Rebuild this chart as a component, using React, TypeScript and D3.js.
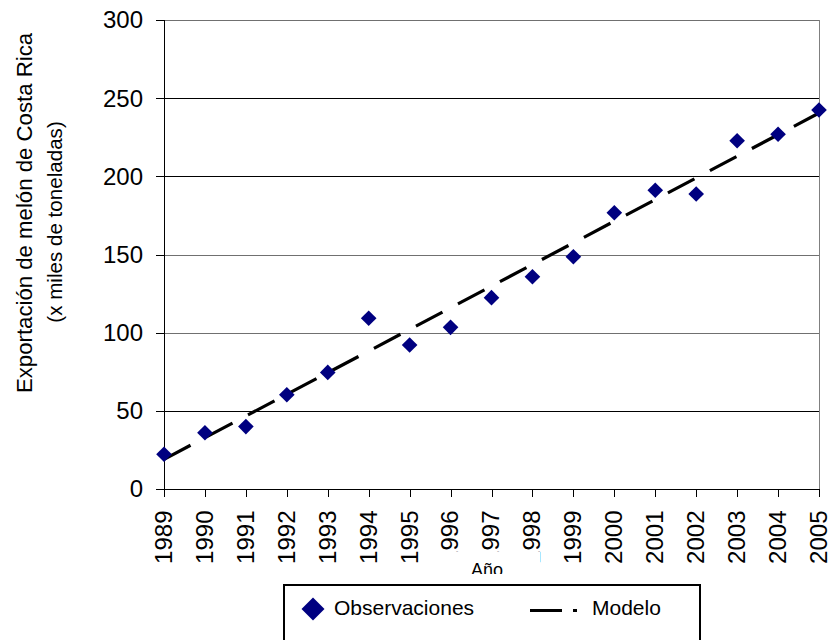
import React from "react";
import * as d3 from "d3";

const years = [1989, 1990, 1991, 1992, 1993, 1994, 1995, 1996, 1997, 1998, 1999, 2000, 2001, 2002, 2003, 2004, 2005];
const observations = [22.2, 36.0, 39.9, 60.3, 74.6, 109.2, 92.1, 103.4, 122.4, 135.8, 148.6, 176.7, 191.1, 188.7, 222.8, 226.9, 242.4];
const modelYears = [1989, 2005];
const modelValues = [19.0, 240.5];
const yTicks = [0, 50, 100, 150, 200, 250, 300];
const yTitle1 = "Exportación de melón de Costa Rica";
const yTitle2 = "(x miles de toneladas)";
const xTitle = "Año";
const legendObs = "Observaciones";
const legendModel = "Modelo";

const W = 829;
const H = 640;
const FONT = "'Liberation Sans', Arial, Helvetica, sans-serif";

export default function App() {
  const left = 164, right = 819, top = 20, bottom = 489;
  const x = d3.scaleLinear().domain([1989, 2005]).range([left, right]);
  const y = d3.scaleLinear().domain([0, 300]).range([bottom, top]);

  const line = d3.line<number>()
    .x((_, i) => x(modelYears[i]))
    .y((d) => y(d));

  const diamond = (cx: number, cy: number, r: number) =>
    `M${cx},${cy - r}L${cx + r},${cy}L${cx},${cy + r}L${cx - r},${cy}Z`;

  return (
    <svg width={W} height={H} style={{ position: "absolute", left: 0, top: 0, background: "#fff" }}>
      <defs>
        <clipPath id="xtclip">
          <rect x={0} y={0} width={W} height={574} />
        </clipPath>
      </defs>
      <rect x={0} y={0} width={W} height={H} fill="#fff" />
      {/* gridlines */}
      {yTicks.filter((t) => t > 0).map((t) => (
        <line key={t} x1={left} x2={right} y1={Math.round(y(t)) + 0.5} y2={Math.round(y(t)) + 0.5}
          stroke={t === 300 || t === 100 || t === 150 ? "#707070" : "#000"} strokeWidth={1} />
      ))}
      {/* right border */}
      <line x1={right + 0.5} x2={right + 0.5} y1={top} y2={bottom} stroke="#808080" strokeWidth={1} />
      {/* y axis */}
      <line x1={left + 0.5} x2={left + 0.5} y1={top} y2={bottom + 0.5} stroke="#000" strokeWidth={1} />
      {yTicks.map((t) => (
        <g key={t}>
          <line x1={left - 8} x2={left} y1={Math.round(y(t)) + 0.5} y2={Math.round(y(t)) + 0.5} stroke="#000" strokeWidth={1} />
          <text x={143} y={y(t)} dy="0.35em" textAnchor="end" fontFamily={FONT} fontSize={24} fill="#000">{t}</text>
        </g>
      ))}
      {/* x axis */}
      <line x1={left} x2={right + 1} y1={bottom + 0.5} y2={bottom + 0.5} stroke="#000" strokeWidth={1} />
      {years.map((yr) => (
        <g key={yr}>
          <line x1={Math.round(x(yr)) + 0.5} x2={Math.round(x(yr)) + 0.5} y1={bottom} y2={bottom + 8} stroke="#000" strokeWidth={1} />
          <text transform={`translate(${x(yr)},510.5) rotate(-90)`} dy="0.33em" textAnchor="end" fontFamily={FONT} fontSize={24} fill="#000">{yr}</text>
        </g>
      ))}
      {/* model line */}
      <path d={line(modelValues) || ""} fill="none" stroke="#000" strokeWidth={3.2} strokeDasharray="30 17.5" />
      {/* observations */}
      {observations.map((v, i) => (
        <path key={years[i]} d={diamond(x(years[i]), y(v), 7.8)} fill="#000080" />
      ))}
      {/* x title */}
      <rect x={440} y={552} width={100} height={22} fill="#fff" />
      <text x={487} y={576} textAnchor="middle" fontFamily={FONT} fontSize={18} fill="#000" clipPath="url(#xtclip)">{xTitle}</text>
      {/* y title */}
      <text transform="translate(32,213) rotate(-90)" textAnchor="middle" fontFamily={FONT} fontSize={22.2} fill="#000">{yTitle1}</text>
      <text transform="translate(62,222) rotate(-90)" textAnchor="middle" fontFamily={FONT} fontSize={20.6} fill="#000">{yTitle2}</text>
      {/* legend */}
      <rect x={284} y={585} width={416} height={80} fill="#fff" stroke="#000" strokeWidth={2} />
      <path d={diamond(313, 609, 11.5)} fill="#000080" />
      <text x={334} y={615} fontFamily={FONT} fontSize={21} fill="#000">{legendObs}</text>
      <line x1={530} x2={562} y1={610.5} y2={610.5} stroke="#000" strokeWidth={3} />
      <rect x={573} y={609} width={4} height={3} fill="#000" />
      <text x={592} y={615} fontFamily={FONT} fontSize={21} fill="#000">{legendModel}</text>
    </svg>
  );
}
